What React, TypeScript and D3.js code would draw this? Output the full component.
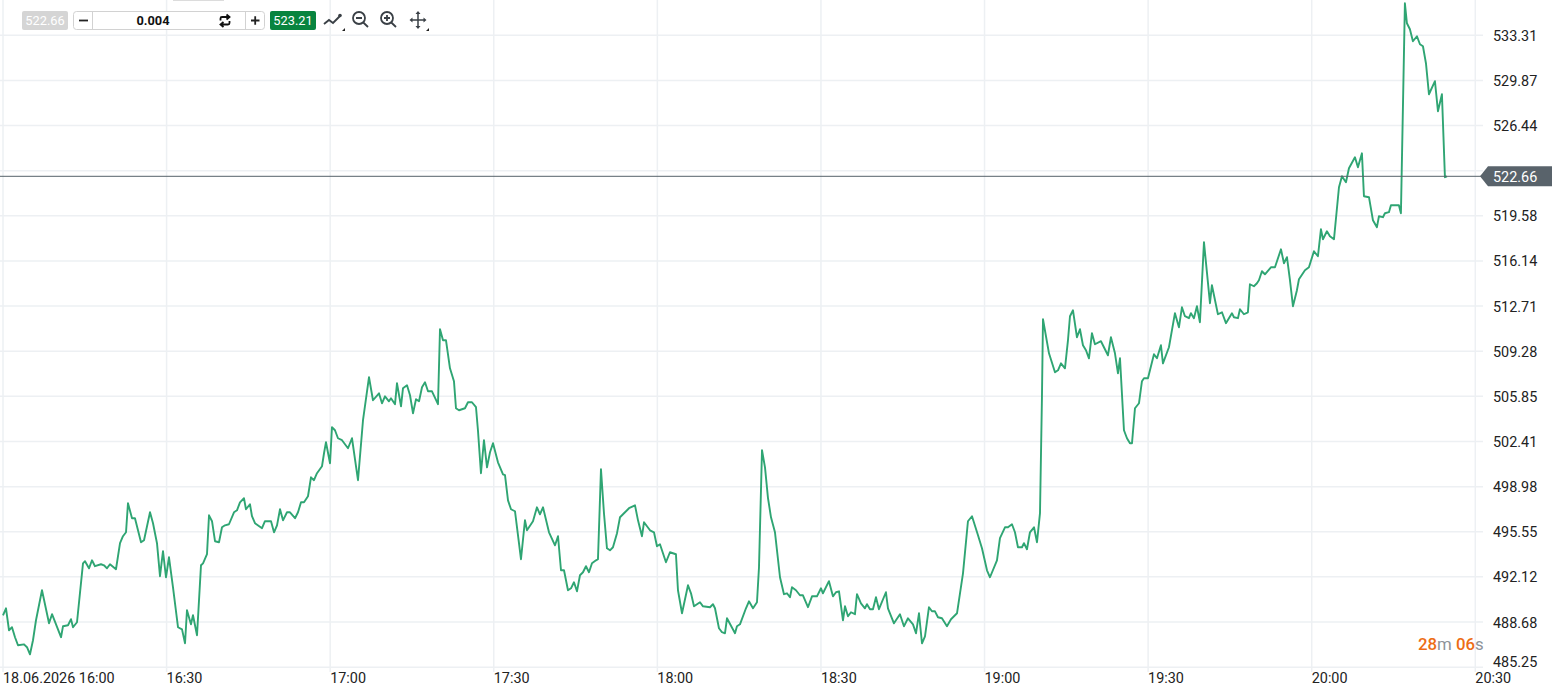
import { useEffect, useRef } from 'react';
import * as d3 from 'd3';

// minutes after 16:00
const minutes = [
  0, 0.55, 1.1, 1.65, 2.2, 2.75, 3.85, 4.4, 4.95, 5.5, 6.05, 7.15, 8.44, 8.99, 10.64, 11, 11.92, 12.47, 12.84, 13.57,
  14.67, 15.04, 15.77, 16.32, 16.87, 17.97, 18.52, 19.07, 19.62, 20.72, 21.46, 22, 22.56, 22.92, 23.66, 24.2, 25.31,
  25.86, 26.96, 27.51, 28.24, 28.79, 29.34, 29.89, 30.44, 31.17, 32.09, 32.83, 33.38, 33.74, 34.47, 34.84, 35.58,
  36.31, 36.68, 37.41, 37.78, 38.33, 38.88, 39.61, 40.16, 40.71, 41.44, 42.36, 42.91, 43.46, 44.19, 44.56, 45.29,
  45.66, 46.21, 47.5, 48.04, 49.15, 49.7, 50.25, 50.8, 51.35, 52.08, 52.63, 53.55, 54.1, 54.65, 55.2, 55.93, 56.48,
  57.03, 57.58, 58.5, 58.87, 59.23, 59.97, 60.33, 60.88, 61.43, 62.17, 63.27, 64, 65.1, 66.02, 67.12, 67.85, 68.95,
  69.5, 70.05, 70.78, 71.15, 71.89, 72.25, 72.99, 73.35, 74.09, 74.64, 75.19, 75.74, 76.29, 76.84, 77.39, 77.94,
  78.67, 79.77, 80.14, 80.69, 81.24, 81.97, 82.7, 83.07, 83.62, 84.72, 85.27, 86, 86.74, 87.1, 87.65, 88.2, 88.76,
  89.31, 89.86, 90.77, 91.69, 92.06, 92.61, 93.16, 93.89, 94.99, 95.72, 96.09, 97.19, 97.92, 98.47, 99.03, 100.13,
  101.23, 101.78, 102.33, 102.88, 103.61, 104.16, 104.71, 105.26, 105.81, 106.36, 106.91, 107.46, 108.01, 108.75,
  109.11, 109.66, 110.21, 110.76, 111.31, 111.86, 112.6, 113.15, 113.7, 114.8, 115.9, 116.45, 117.18, 117.55, 118.65,
  119.38, 119.93, 120.48, 121.58, 122.31, 123.41, 123.78, 124.52, 125.62, 126.17, 126.72, 127.82, 128.37, 129.65,
  130.2, 130.57, 131.3, 131.85, 132.4, 132.77, 134.24, 134.6, 135.15, 136.25, 136.8, 137.54, 138.27, 138.64, 139.19,
  139.74, 140.29, 140.84, 141.57, 142.49, 143.22, 143.77, 144.32, 144.69, 145.42, 146.15, 146.7, 147.62, 148.36,
  149.27, 150.01, 150.37, 151.47, 152.2, 152.76, 153.31, 154.04, 154.41, 154.96, 155.51, 156.24, 156.61, 157.34,
  158.07, 158.44, 158.99, 159.54, 160.09, 160.64, 161.92, 162.29, 163.39, 164.49, 165.22, 165.96, 166.88, 167.43,
  167.98, 168.53, 169.08, 169.81, 170.36, 170.91, 171.46, 172.19, 173.11, 173.85, 174.95, 176.05, 176.96, 177.7,
  178.8, 179.53, 180.45, 181, 182.28, 182.83, 183.75, 184.3, 185.03, 185.58, 186.13, 186.87, 187.23, 187.78, 188.33,
  189.07, 189.62, 190.17, 190.53, 190.72, 191.82, 192.92, 193.47, 194.02, 194.75, 195.3, 195.67, 196.22, 196.95,
  197.5, 198.05, 198.6, 199.15, 199.7, 200.25, 201.35, 202.63, 203.18, 203.92, 204.47, 204.84, 205.57, 206.12,
  206.67, 207.04, 207.59, 208.32, 208.87, 209.24, 209.97, 211.07, 211.62, 212.35, 212.72, 213.82, 214.92, 215.65,
  216.2, 216.75, 217.49, 217.85, 218.4, 218.95, 219.5, 220.24, 221.34, 221.7, 222.8, 223.54, 224.27, 225.37, 225.74,
  226.47, 226.84, 227.57, 228.3, 228.67, 229.4, 229.96, 230.32, 230.87, 231.42, 232.52, 233.26, 234.36, 234.91,
  235.46, 236.01, 236.56, 237.29, 237.66, 238.76, 239.49, 240.41, 241.14, 241.69, 242.06, 242.79, 243.34, 244.08,
  245, 245.55, 246.28, 246.83, 247.93, 248.48, 249.21, 249.58, 250.5, 251.23, 251.96, 252.33, 253.06, 253.43, 254.16,
  254.53, 255.99, 256.36, 257.09, 257.46, 258.01, 258.56, 259.3, 259.85, 260.4, 260.95, 261.5, 262.6, 263.15, 263.88,
  264.43, 264.8,
];

const prices = [
  489.2, 489.73, 488.06, 488.29, 487.53, 486.92, 486.99, 486.77, 486.23, 487.3, 488.82, 491.1, 488.59, 489.28, 487.53,
  488.36, 488.44, 488.9, 488.29, 488.67, 493.15, 493.31, 492.77, 493.38, 492.93, 493.08, 493, 492.77, 493.08, 492.7,
  494.68, 495.21, 495.51, 497.72, 496.58, 496.58, 494.75, 494.9, 497.03, 496.2, 494.68, 492.17, 494.07, 492.09,
  493.61, 491.33, 488.29, 488.13, 487.07, 489.58, 488.51, 489.2, 487.68, 493, 493.15, 493.84, 496.8, 496.35, 494.83,
  494.75, 495.89, 496.04, 496.12, 497.03, 497.18, 497.79, 498.1, 497.26, 497.64, 496.73, 496.2, 495.82, 496.35,
  496.35, 495.51, 496.04, 497.26, 496.42, 497.03, 497.03, 496.58, 497.03, 497.79, 497.79, 498.25, 499.69, 499.47,
  500, 500.53, 501.52, 502.36, 500.76, 503.5, 503.27, 502.66, 502.51, 501.9, 502.66, 499.47, 504.03, 507.3, 505.55,
  506.08, 505.32, 505.85, 505.47, 505.7, 505.25, 506.84, 505.09, 506.46, 506.69, 505.93, 504.56, 505.63, 505.47,
  506.54, 506.92, 506.23, 506.23, 505.25, 510.95, 510.11, 510.11, 507.98, 507, 504.94, 504.79, 504.94, 505.4, 505.4,
  505.02, 503.27, 500, 502.51, 500.45, 501.6, 502.28, 500.83, 499.92, 499.85, 497.94, 497.26, 497.11, 493.46, 496.42,
  495.66, 496.35, 497.41, 496.88, 497.41, 495.51, 494.52, 495.21, 492.62, 492.62, 491.1, 491.25, 491.71, 491.02,
  492.24, 492.47, 492.93, 492.47, 493.15, 493.38, 493.46, 500.3, 496.96, 494.29, 494.14, 494.37, 495.44, 496.65,
  496.88, 497.34, 497.56, 496.42, 495.21, 496.27, 495.66, 495.51, 494.45, 494.6, 493.23, 493.99, 493.84, 491.1,
  489.35, 491.48, 490.87, 489.88, 490.19, 489.88, 489.81, 490.04, 489.73, 488.21, 487.91, 487.83, 488.97, 487.83,
  488.36, 488.51, 489.73, 490.26, 489.73, 490.19, 492.85, 501.75, 500.45, 498.1, 496.65, 495.51, 492.09, 490.8,
  490.87, 490.57, 491.33, 491.1, 490.72, 490.72, 489.81, 490.64, 490.64, 491.25, 490.87, 491.79, 490.64, 490.95,
  491.02, 488.82, 489.88, 489.12, 489.43, 489.28, 490.8, 490.11, 489.73, 490.04, 489.66, 489.66, 490.57, 489.66,
  490.95, 489.73, 488.59, 489.28, 488.36, 488.97, 488.51, 487.83, 489.35, 487.07, 487.6, 489.81, 489.5, 489.5, 489.05,
  488.97, 488.36, 488.9, 489.35, 492.39, 496.35, 496.73, 495.28, 494.29, 492.62, 492.09, 493.38, 495.06, 495.89,
  495.89, 496.12, 495.51, 494.37, 494.37, 494.68, 494.22, 495.51, 495.89, 494.75, 496.96, 505.78, 511.71, 509.12,
  507.68, 507.83, 508.36, 507.98, 510.11, 511.94, 512.39, 510.34, 510.95, 509.73, 509.35, 508.74, 510.65, 509.81,
  510.04, 508.97, 510.34, 509.12, 507.6, 508.74, 503.27, 502.66, 502.28, 502.28, 504.94, 505.32, 507, 507.22, 507.22,
  509.05, 508.74, 509.73, 508.36, 509.58, 512.17, 511.1, 512.62, 511.94, 511.79, 512.17, 511.79, 512.7, 511.48,
  517.57, 512.93, 514.3, 512.09, 512.24, 511.41, 512.17, 511.86, 511.79, 512.47, 512.09, 512.24, 514.37, 514.22,
  514.45, 514.68, 515.36, 515.13, 515.66, 515.66, 517.03, 515.97, 516.43, 514.68, 512.7, 513.92, 514.75, 515.44,
  515.66, 516.88, 516.5, 518.55, 517.79, 518.4, 518.02, 517.79, 521.75, 522.59, 522.13, 523.19, 524.03, 523.27,
  524.33, 521.06, 520.99, 519.24, 518.71, 519.54, 519.47, 519.77, 519.85, 520.38, 520.38, 519.77, 535.74, 534.22,
  533.76, 532.85, 533.23, 532.62, 532.47, 531.18, 528.82, 529.81, 527.53, 528.82, 522.51, 522.58,
];

const priceTicks = [
  533.31, 529.87, 526.44, 523.01, 519.58, 516.14, 512.71, 509.28, 505.85, 502.41, 498.98, 495.55, 492.12, 488.68,
  485.25,
];
const timeTicks = [0, 30, 60, 90, 120, 150, 180, 210, 240, 270];
const timeLabels = [
  '18.06.2026 16:00', '16:30', '17:00', '17:30', '18:00', '18:30', '19:00', '19:30', '20:00', '20:30',
];
const lastLevel = 522.58;
const bid = '522.66';
const ask = '523.21';
const lotSize = '0.004';

const FONT = 'Roboto, sans-serif';

function Toolbar() {
  const ink = '#3a4046';
  return (
    <g fontFamily={FONT}>
      <rect x={173} y={-2} width={51} height={3} fill="#dcdcdc" />
      <rect x={22} y={11} width={46} height={19} rx={2} fill="#d5d5d5" />
      <text x={45} y={24.5} fill="#fff" fontSize={12.8} textAnchor="middle">{bid}</text>
      <rect x={73.5} y={11.5} width={191} height={18} rx={3} fill="#fff" stroke="#d2d2d2" />
      <path d="M92.5 11.5V29.5M245.5 11.5V29.5" stroke="#d2d2d2" />
      <path d="M79 20.5H88" stroke="#222" strokeWidth={1.8} />
      <text x={153} y={24.5} fill="#111" fontSize={12.8} fontWeight={700} textAnchor="middle">{lotSize}</text>
      <path
        d="M220.5 20.5V18.5Q220.5 17 222 17H228.5M226.5 14.5L229.5 17L226.5 19.5M229.5 21V23Q229.5 24.5 228 24.5H221.5M223.5 22L220.5 24.5L223.5 27"
        fill="none"
        stroke="#111"
        strokeWidth={1.8}
      />
      <path d="M251 20.5H259.5M255.2 16.2V24.8" stroke="#222" strokeWidth={1.8} />
      <rect x={270} y={11} width={46} height={19} rx={2} fill="#08843f" />
      <text x={293} y={24.5} fill="#fff" fontSize={12.8} textAnchor="middle">{ask}</text>

      <path d="M324 24L329 20L333 23L340 16" fill="none" stroke={ink} strokeWidth={1.9} />
      <circle cx={340} cy={15.5} r={1.8} fill={ink} />
      <path d="M342 31H345V28Z" fill="#222" />

      <g fill="none" stroke={ink} strokeWidth={1.8}>
        <circle cx={359} cy={18} r={6} />
        <path d="M363.3 22.5L368 27M356 18H362" />
        <circle cx={387} cy={18} r={6} />
        <path d="M391.3 22.5L396 27M384 18H390M387 15V21" />
        <path d="M411 20H425M418 13V27" strokeWidth={1.5} />
      </g>
      <path d="M418 11L415.5 14H420.5ZM418 29L415.5 26H420.5ZM409.5 20L412.5 17.5V22.5ZM426.5 20L423.5 17.5V22.5Z" fill={ink} />
      <path d="M426 31H429V28Z" fill="#222" />
    </g>
  );
}

export default function App() {
  const ref = useRef<SVGGElement | null>(null);

  useEffect(() => {
    document.body.style.margin = '0';
    document.body.style.overflow = 'hidden';
    if (!ref.current) return;

    const x = d3.scaleLinear().domain([0, 270]).range([3, 1475.3]);
    const y = d3.scaleLinear().domain([485.25, 533.31]).range([667.2, 35.2]);

    const g = d3.select(ref.current);
    g.selectAll('*').remove();

    const grid = '#edf0f3';
    g.append('g')
      .selectAll('line')
      .data(priceTicks)
      .join('line')
      .attr('x1', 0)
      .attr('x2', 1483)
      .attr('y1', d => y(d))
      .attr('y2', d => y(d))
      .attr('stroke', grid)
      .attr('stroke-width', 1.5);

    g.append('g')
      .selectAll('line')
      .data(timeTicks)
      .join('line')
      .attr('x1', d => x(d))
      .attr('x2', d => x(d))
      .attr('y1', 0)
      .attr('y2', 672)
      .attr('stroke', grid)
      .attr('stroke-width', 1.5);

    const line = d3
      .line<number>()
      .x((_, i) => x(minutes[i]))
      .y(d => y(d));

    g.append('path')
      .datum(prices)
      .attr('fill', 'none')
      .attr('stroke', '#2fa573')
      .attr('stroke-width', 1.9)
      .attr('stroke-linejoin', 'round')
      .attr('d', line);

    g.append('line')
      .attr('x1', 0)
      .attr('x2', 1481)
      .attr('y1', y(lastLevel))
      .attr('y2', y(lastLevel))
      .attr('stroke', '#56626a')
      .attr('stroke-width', 1);

    // price labels, the one behind the current price tag is dropped
    g.append('g')
      .selectAll('text')
      .data(priceTicks.filter(d => Math.abs(y(d) - y(lastLevel)) > 12))
      .join('text')
      .attr('x', 1493)
      .attr('y', d => Math.min(y(d) + 5.5, 667))
      .attr('font-family', FONT)
      .attr('font-size', 14.4)
      .attr('fill', '#222')
      .text(d => d.toFixed(2));

    g.append('g')
      .selectAll('text')
      .data(timeTicks)
      .join('text')
      .attr('x', d => x(d))
      .attr('y', 683)
      .attr('font-family', FONT)
      .attr('font-size', 14.4)
      .attr('fill', '#222')
      .text((_, i) => timeLabels[i]);

    const tagY = y(lastLevel);
    g.append('path')
      .attr('d', `M1480 ${tagY}L1488 ${tagY - 10}H1552V${tagY + 10}H1488Z`)
      .attr('fill', '#59636b');
    g.append('text')
      .attr('x', 1493)
      .attr('y', tagY + 5.2)
      .attr('font-family', FONT)
      .attr('font-size', 14.4)
      .attr('fill', '#fff')
      .text(bid);
  }, []);

  return (
    <svg
      width={1552}
      height={687}
      viewBox="0 0 1552 687"
      style={{ position: 'absolute', left: 0, top: 0, background: '#fff' }}
    >
      <g ref={ref} />
      <Toolbar />
      <text x={1418} y={650} fontFamily={FONT} fontSize={16.8} fontWeight={500} fill="#ed6d14">
        28<tspan fill="#8d9399" fontWeight={400}>m</tspan> 06<tspan fill="#8d9399" fontWeight={400}>s</tspan>
      </text>
    </svg>
  );
}
